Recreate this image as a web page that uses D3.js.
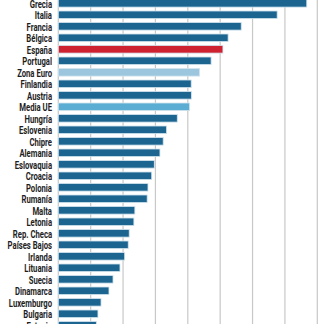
<!DOCTYPE html>
<html>
<head>
<meta charset="utf-8">
<script src="https://cdn.jsdelivr.net/npm/d3@7"></script>
<style>
	html, body { margin: 0; padding: 0; background: #fff; }
	#chart { width: 324px; height: 324px; overflow: hidden; }
	text { font-family: "Roboto", "DejaVu Sans", sans-serif; }
</style>
</head>
<body>
<div id="chart"></div>
<script>

var countries = ['Grecia', 'Italia', 'Francia', 'Bélgica', 'España', 'Portugal', 'Zona Euro', 'Finlandia',
	'Austria', 'Media UE', 'Hungría', 'Eslovenia', 'Chipre', 'Alemania', 'Eslovaquia', 'Croacia', 'Polonia',
	'Rumanía', 'Malta', 'Letonia', 'Rep. Checa', 'Países Bajos', 'Irlanda', 'Lituania', 'Suecia', 'Dinamarca',
	'Luxemburgo', 'Bulgaria', 'Estonia'];

var values = [15.35, 13.52, 11.30, 10.49, 10.17, 9.44, 8.73, 8.21,
	8.22, 8.11, 7.35, 6.69, 6.48, 6.28, 5.93, 5.77, 5.54,
	5.49, 4.73, 4.67, 4.38, 4.32, 4.10, 3.81, 3.38, 3.13,
	2.64, 2.45, 2.35];

var ticks = [0, 2, 4, 6, 8, 10, 12, 14, 16];

function barColor(name) {
	if (name == 'España') return '#cf2230';
	if (name == 'Zona Euro') return '#9cc6de';
	if (name == 'Media UE') return '#5badd3';
	return '#1c6591';
}

function createChart() {
	var svgWidth = 324;
	var svgHeight = 324;
	var left = 58.3;
	var step = 11.5;

	var x = d3.scaleLinear().domain([0, 16]).range([left, 317.3]);
	var y = d3.scaleBand().domain(countries)
		.range([-2.45, -2.45 + step * countries.length])
		.paddingInner(0.34).paddingOuter(0.17);

	var svg = d3.select('#chart').append('svg')
		.attr('width', svgWidth)
		.attr('height', svgHeight);

	// grid lines behind the bars
	svg.selectAll('.grid').data(ticks).enter().append('line')
		.attr('class', 'grid')
		.attr('x1', function(d) { return x(d); })
		.attr('x2', function(d) { return x(d); })
		.attr('y1', 0)
		.attr('y2', svgHeight)
		.style('stroke', '#c8c8c8')
		.style('stroke-width', 1.2);

	var data = countries.map(function(c, i) { return {label: c, value: values[i]}; });

	svg.selectAll('.bar').data(data).enter().append('rect')
		.attr('class', 'bar')
		.attr('x', x(0))
		.attr('y', function(d) { return y(d.label); })
		.attr('width', function(d) { return x(d.value) - x(0); })
		.attr('height', y.bandwidth())
		.style('fill', function(d) { return barColor(d.label); })
		.style('stroke', '#d3e4ee')
		.style('stroke-width', 0.8);

	// condensed labels: squeeze a normal font horizontally
	svg.selectAll('.label').data(data).enter().append('text')
		.attr('class', 'label')
		.attr('transform', function(d) {
			return 'translate(52,' + (y(d.label) + y.bandwidth() / 2) + ') scale(0.67,1)';
		})
		.attr('dy', '.37em')
		.style('text-anchor', 'end')
		.style('font-size', '11.5px')
		.style('font-weight', 700)
		.style('fill', '#1e1e1e')
		.text(function(d) { return d.label; });
}

createChart();
</script>
</body>
</html>
